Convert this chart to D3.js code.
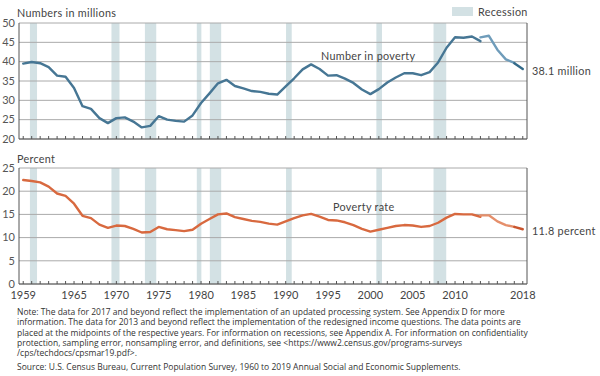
<!DOCTYPE html>
<html>
<head>
<meta charset="utf-8">
<script src="https://cdn.jsdelivr.net/npm/d3@7"></script>
<style>
  body { margin: 0; background: #fff; }
  svg { display: block; }
</style>
</head>
<body>
<div id="chart"></div>
<script>
// years the old-method series covers (1959 to 2013)
const yearsOld = [
  1959, 1960, 1961, 1962, 1963, 1964, 1965, 1966, 1967, 1968,
  1969, 1970, 1971, 1972, 1973, 1974, 1975, 1976, 1977, 1978,
  1979, 1980, 1981, 1982, 1983, 1984, 1985, 1986, 1987, 1988,
  1989, 1990, 1991, 1992, 1993, 1994, 1995, 1996, 1997, 1998,
  1999, 2000, 2001, 2002, 2003, 2004, 2005, 2006, 2007, 2008,
  2009, 2010, 2011, 2012, 2013,
];
const yearsRedesign = [2013, 2014, 2015, 2016, 2017];
const yearsUpdated = [2017, 2018];

// number in poverty, millions
const numberOld = [
  39.5, 39.9, 39.6, 38.6, 36.4, 36.1, 33.2, 28.5, 27.8, 25.4,
  24.1, 25.4, 25.6, 24.5, 23.0, 23.4, 25.9, 25.0, 24.7, 24.5,
  26.1, 29.3, 31.8, 34.4, 35.3, 33.7, 33.1, 32.4, 32.2, 31.7,
  31.5, 33.6, 35.7, 38.0, 39.3, 38.1, 36.4, 36.5, 35.6, 34.5,
  32.8, 31.6, 32.9, 34.6, 35.9, 37.0, 37.0, 36.5, 37.3, 39.8,
  43.6, 46.3, 46.2, 46.5, 45.3,
];
const numberRedesign = [46.3, 46.7, 43.1, 40.6, 39.7];
const numberUpdated = [39.6, 38.1];

// poverty rate, percent
const rateOld = [
  22.4, 22.2, 21.9, 21.0, 19.5, 19.0, 17.3, 14.7, 14.2, 12.8,
  12.1, 12.6, 12.5, 11.9, 11.1, 11.2, 12.3, 11.8, 11.6, 11.4,
  11.7, 13.0, 14.0, 15.0, 15.2, 14.4, 14.0, 13.6, 13.4, 13.0,
  12.8, 13.5, 14.2, 14.8, 15.1, 14.5, 13.8, 13.7, 13.3, 12.7,
  11.9, 11.3, 11.7, 12.1, 12.5, 12.7, 12.6, 12.3, 12.5, 13.2,
  14.3, 15.1, 15.0, 15.0, 14.5,
];
const rateRedesign = [14.8, 14.8, 13.5, 12.7, 12.3];
const rateUpdated = [12.3, 11.8];

// recession start / end as fractional years
const recessions = [
  [1960.29, 1961.13], [1969.92, 1970.87], [1973.87, 1975.21],
  [1980.0, 1980.54], [1981.54, 1982.88], [1990.54, 1991.21],
  [2001.21, 2001.87], [2007.96, 2009.46],
];

const xLabels = [1959, 1965, 1970, 1975, 1980, 1985, 1990, 1995, 2000, 2005, 2010, 2018];
const numberTicks = [20, 25, 30, 35, 40, 45, 50];
const rateTicks = [0, 5, 10, 15, 20, 25];

const noteLines = [
  'Note: The data for 2017 and beyond reflect the implementation of an updated processing system. See Appendix D for more',
  'information. The data for 2013 and beyond reflect the implementation of the redesigned income questions. The data points are',
  'placed at the midpoints of the respective years. For information on recessions, see Appendix A. For information on confidentiality',
  'protection, sampling error, nonsampling error, and definitions, see <https://www2.census.gov/programs-surveys',
  '/cps/techdocs/cpsmar19.pdf>.',
];
const sourceLine = 'Source: U.S. Census Bureau, Current Population Survey, 1960 to 2019 Annual Social and Economic Supplements.';

const font = 'Lato, "Liberation Sans", sans-serif';
const noteFont = '"Open Sans", "Liberation Sans", sans-serif';
const width = 600;
const height = 376;

const svg = d3
  .select('#chart')
  .append('svg')
  .attr('width', width)
  .attr('height', height);

// year boundaries on the axis, data sits at the midpoint of each year
const x = d3.scaleLinear().domain([1959, 2019]).range([19, 527]);
const mid = (yr) => x(yr + 0.5);

const zip = (years, vals) => years.map((yr, i) => ({yr, v: vals[i]}));

const drawPanel = ({y, ticks, title, titleY, series, label, endLabel}) => {
  const [bottom, top] = y.range();
  const g = svg.append('g');

  // recession shading
  g.selectAll('rect.rec')
    .data(recessions)
    .join('rect')
    .attr('class', 'rec')
    .attr('x', (d) => x(d[0]))
    .attr('width', (d) => x(d[1]) - x(d[0]))
    .attr('y', top)
    .attr('height', bottom - top)
    .attr('fill', '#d3e1e4');

  // gridlines
  g.selectAll('line.grid')
    .data(ticks)
    .join('line')
    .attr('x1', x.range()[0])
    .attr('x2', x.range()[1])
    .attr('y1', (d) => y(d))
    .attr('y2', (d) => y(d))
    .attr('stroke', '#aaa')
    .attr('stroke-width', 1);

  // frame on left, right, bottom
  g.append('path')
    .attr('d', `M${x.range()[0]},${top}V${bottom}H${x.range()[1]}V${top}`)
    .attr('fill', 'none')
    .attr('stroke', '#555')
    .attr('stroke-width', 1);

  // small year ticks pointing up from the bottom axis
  g.selectAll('line.yt')
    .data(d3.range(1959, 2019))
    .join('line')
    .attr('class', 'yt')
    .attr('x1', (d) => mid(d))
    .attr('x2', (d) => mid(d))
    .attr('y1', bottom)
    .attr('y2', bottom - 3)
    .attr('stroke', '#555')
    .attr('stroke-width', 1);

  g.selectAll('text.ylab')
    .data(ticks)
    .join('text')
    .attr('x', 15)
    .attr('y', (d) => y(d))
    .attr('dy', '0.34em')
    .attr('text-anchor', 'end')
    .attr('font-family', font)
    .attr('font-size', 11)
    .attr('fill', '#555')
    .text((d) => d);

  g.append('text')
    .attr('x', 17)
    .attr('y', titleY)
    .attr('font-family', font)
    .attr('font-size', 10.8)
    .attr('letter-spacing', 0.3)
    .attr('fill', '#444')
    .text(title);

  const line = d3.line().x((d) => mid(d.yr)).y((d) => y(d.v));
  series.forEach((s) => {
    g.append('path')
      .datum(s.data)
      .attr('d', line)
      .attr('fill', 'none')
      .attr('stroke', s.color)
      .attr('stroke-width', 2.4)
      .attr('stroke-linejoin', 'round')
      .attr('stroke-linecap', 'round');
  });

  g.append('text')
    .attr('x', label.x)
    .attr('y', label.y)
    .attr('dy', '0.36em')
    .attr('font-family', font)
    .attr('font-size', 10.8)
    .attr('letter-spacing', 0.3)
    .attr('fill', '#444')
    .text(label.text);

  g.append('text')
    .attr('x', 532)
    .attr('y', endLabel.y)
    .attr('dy', '0.36em')
    .attr('font-family', font)
    .attr('font-size', 10.8)
    .attr('letter-spacing', 0.3)
    .attr('fill', '#444')
    .text(endLabel.text);

  return g;
};

const yNumber = d3.scaleLinear().domain([20, 50]).range([139, 23]);
const yRate = d3.scaleLinear().domain([0, 25]).range([284, 168]);

drawPanel({
  y: yNumber,
  ticks: numberTicks,
  title: 'Numbers in millions',
  titleY: 17,
  series: [
    {data: zip(yearsOld, numberOld), color: '#467694'},
    {data: zip(yearsRedesign, numberRedesign), color: '#6f9cba'},
    {data: zip(yearsUpdated, numberUpdated), color: '#336a89'},
  ],
  label: {x: 321, y: 56, text: 'Number in poverty'},
  endLabel: {y: 71, text: '38.1 million'},
});

const bottomPanel = drawPanel({
  y: yRate,
  ticks: rateTicks,
  title: 'Percent',
  titleY: 163,
  series: [
    {data: zip(yearsOld, rateOld), color: '#d8693f'},
    {data: zip(yearsRedesign, rateRedesign), color: '#e58f6b'},
    {data: zip(yearsUpdated, rateUpdated), color: '#c9552e'},
  ],
  label: {x: 333, y: 207, text: 'Poverty rate'},
  endLabel: {y: 231, text: '11.8 percent'},
});

// x axis labels under the bottom panel only
bottomPanel
  .selectAll('text.xlab')
  .data(xLabels)
  .join('text')
  .attr('x', (d) => mid(d))
  .attr('y', 299)
  .attr('text-anchor', 'middle')
  .attr('font-family', font)
  .attr('font-size', 11)
  .attr('fill', '#444')
  .text((d) => d);

// legend
svg.append('rect')
  .attr('x', 452)
  .attr('y', 7)
  .attr('width', 21)
  .attr('height', 9)
  .attr('fill', '#d3e1e4');
svg.append('text')
  .attr('x', 478)
  .attr('y', 12)
  .attr('dy', '0.36em')
  .attr('font-family', font)
  .attr('font-size', 10.8)
  .attr('letter-spacing', 0.3)
  .attr('fill', '#444')
  .text('Recession');

// footnotes: widen with letter spacing so the longest line spans ~491px
const noteSize = 8.5;
const notes = svg.selectAll('text.note')
  .data(noteLines)
  .join('text')
  .attr('class', 'note')
  .attr('x', 17)
  .attr('y', (d, i) => 315 + i * 10.3)
  .attr('font-family', noteFont)
  .attr('font-size', noteSize)
  .attr('fill', '#333')
  .text((d) => d);

const source = svg.append('text')
  .attr('x', 17)
  .attr('y', 370)
  .attr('font-family', noteFont)
  .attr('font-size', noteSize)
  .attr('fill', '#333')
  .text(sourceLine);

const longestLine = noteLines[2];
const longest = notes.nodes()[2].getComputedTextLength();
const spacing = Math.max(0, (491 - longest) / longestLine.length);
notes.attr('letter-spacing', spacing);
source.attr('letter-spacing', spacing);
</script>
</body>
</html>
